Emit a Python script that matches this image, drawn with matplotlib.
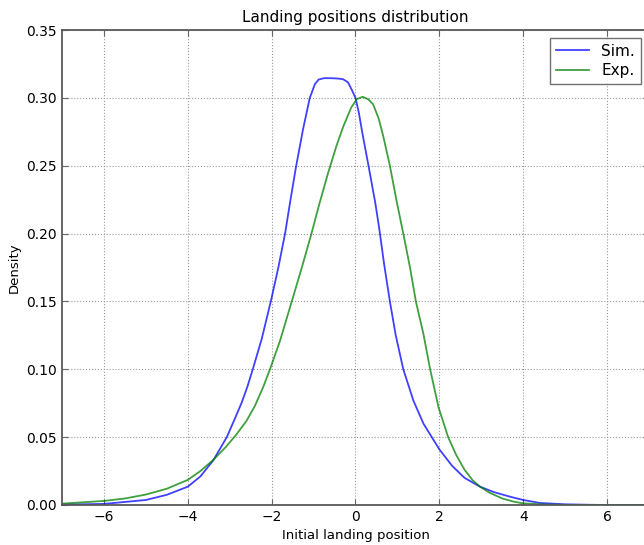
import matplotlib
matplotlib.use('Agg')
import matplotlib.pyplot as plt

# density estimates of initial landing position
simX = [-7.0, -6.0, -5.0, -4.5, -4.0, -3.7, -3.39, -3.07, -2.9, -2.72, -2.58,
        -2.44, -2.24, -2.02, -1.84, -1.68, -1.55, -1.42, -1.25, -1.09, -0.97,
        -0.88, -0.75, -0.6, -0.45, -0.3, -0.18, -0.09, 0.0, 0.08, 0.17, 0.31,
        0.47, 0.56, 0.68, 0.82, 0.96, 1.14, 1.38, 1.62, 1.82, 2.0, 2.3, 2.6,
        2.97, 3.3, 3.7, 4.0, 4.4, 5.0, 5.5, 6.0, 7.0]
simY = [0.0003, 0.0008, 0.0037, 0.0075, 0.0135, 0.021, 0.033, 0.050, 0.062,
        0.075, 0.087, 0.101, 0.122, 0.150, 0.175, 0.200, 0.225, 0.249, 0.277,
        0.300, 0.310, 0.3135, 0.3145, 0.3145, 0.3143, 0.3138, 0.3115, 0.306,
        0.300, 0.289, 0.273, 0.250, 0.223, 0.205, 0.178, 0.150, 0.125, 0.100,
        0.077, 0.060, 0.050, 0.041, 0.029, 0.020, 0.0135, 0.0095, 0.006,
        0.0037, 0.0015, 0.0005, 0.0002, 0.0, 0.0]

expX = [-7.0, -6.0, -5.5, -5.0, -4.5, -4.0, -3.7, -3.4, -3.1, -2.84, -2.6,
        -2.4, -2.2, -2.04, -1.8, -1.52, -1.28, -1.05, -0.87, -0.65, -0.45,
        -0.29, -0.1, 0.03, 0.17, 0.3, 0.42, 0.55, 0.66, 0.82, 0.98, 1.14,
        1.3, 1.44, 1.62, 1.78, 1.98, 2.21, 2.4, 2.6, 2.8, 2.97, 3.2, 3.5,
        3.77, 4.0, 4.5, 5.0, 7.0]
expY = [0.001, 0.003, 0.0048, 0.0077, 0.012, 0.0185, 0.025, 0.033, 0.0425,
        0.052, 0.062, 0.073, 0.087, 0.100, 0.121, 0.150, 0.175, 0.200, 0.221,
        0.245, 0.265, 0.279, 0.293, 0.299, 0.3008, 0.299, 0.2953, 0.285,
        0.272, 0.250, 0.224, 0.200, 0.175, 0.150, 0.126, 0.100, 0.072, 0.050,
        0.037, 0.026, 0.018, 0.0135, 0.009, 0.0048, 0.0025, 0.0012, 0.0004,
        0.0001, 0.0]

fig = plt.figure(figsize=(6.44, 5.45), dpi=100)
ax = fig.add_axes([62/644, 40/545, 587/644, 475/545])

ax.plot(simX, simY, color='b', alpha=0.75, lw=1.3, label='Sim.')
ax.plot(expX, expY, color='g', alpha=0.75, lw=1.3, label='Exp.')

ax.set_xlim(-7, 7)
ax.set_ylim(0, 0.35)
ax.set_xticks([-6, -4, -2, 0, 2, 4, 6])
ax.set_yticks([0.0, 0.05, 0.10, 0.15, 0.20, 0.25, 0.30, 0.35])
ax.set_yticklabels(['0.00', '0.05', '0.10', '0.15', '0.20', '0.25', '0.30', '0.35'])
ax.grid(True, color='0.6', linestyle=':', linewidth=0.8)
ax.tick_params(direction='in', top=True, right=True, labelsize=10, length=4,
               color='0.4')
for s in ax.spines.values():
    s.set_color('0.35')
    s.set_linewidth(1.3)

ax.set_title('Landing positions distribution', fontsize=11)
ax.set_xlabel('Initial landing position', fontsize=9.5)
ax.set_ylabel('Density', fontsize=9.5)

leg = ax.legend(loc='upper right', fontsize=11, fancybox=False,
                handlelength=2.2, borderpad=0.4, labelspacing=0.3)
leg.get_frame().set_edgecolor('0.3')
leg.get_frame().set_linewidth(1.0)

plt.savefig('out.png', dpi=100)
